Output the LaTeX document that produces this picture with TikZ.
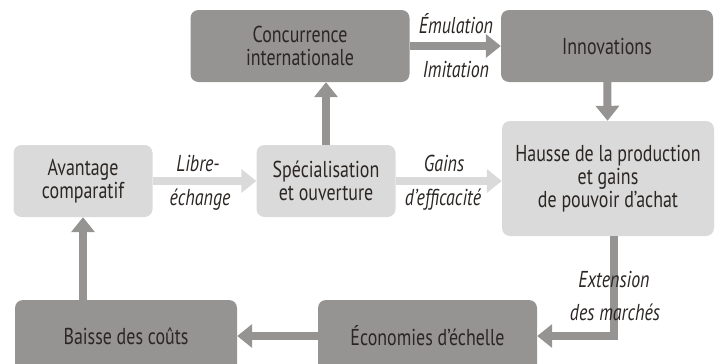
\documentclass[tikz,border=0pt]{standalone}
\usepackage{fontspec}
\setmainfont{PT Sans}[FakeStretch=0.78]
\usetikzlibrary{arrows.meta}
\definecolor{boxdark}{HTML}{959492}
\definecolor{boxlight}{HTML}{DADADA}
\definecolor{inkcol}{HTML}{2B2623}
\begin{document}
\begin{tikzpicture}[x=1pt,y=-1pt,
    box/.style={rectangle, rounded corners=8pt, inner sep=0pt, align=center,
      text=inkcol, font=\fontsize{23}{23}\selectfont},
    darkbox/.style={box, fill=boxdark},
    lightbox/.style={box, fill=boxlight},
    flow/.style={line width=8pt, -{Triangle[width=23pt,length=15pt]}},
    lbl/.style={text=inkcol, font=\fontsize{23}{23}\selectfont\itshape}]
    \useasboundingbox (0,0) rectangle (723,364);

    % boxes
    \node[lightbox, minimum width=139pt, minimum height=72pt] (avant) at (83,181) {Avantage\\comparatif};
    \node[lightbox, minimum width=139pt, minimum height=72pt] (spec) at (326,181) {Spécialisation\\et ouverture};
    \node[darkbox, minimum width=219pt, minimum height=72pt] (conc) at (300,46) {Concurrence\\internationale};
    \node[darkbox, minimum width=212pt, minimum height=72pt] (innov) at (607,46) {Innovations};
    \node[lightbox, minimum width=212pt, minimum height=115pt] (hausse) at (608,178.5) {Hausse de la production\\et gains\\de pouvoir d’achat};
    \node[darkbox, minimum width=219pt, minimum height=72pt] (eco) at (427.5,336) {Économies d’échelle};
    \node[darkbox, minimum width=222pt, minimum height=72pt] (baisse) at (126,336) {Baisse des coûts};

    % connectors
    \draw[flow, boxlight] (avant) -- (spec);
    \draw[flow, boxlight] (spec) -- (hausse.west |- spec);
    \draw[flow, boxdark] (conc) -- (innov);
    \draw[flow, boxdark] (spec.north) -- (spec.north |- conc.south);
    \draw[flow, boxdark] (innov) -- (hausse);
    \draw[flow, boxdark] ([xshift=6pt]hausse.south) |- (eco.east);
    \draw[flow, boxdark] (eco) -- (baisse);
    \draw[flow, boxdark] (avant.south |- baisse.north) -- (avant.south);

    % labels
    \node[lbl] (libre) at (198,163) {Libre-};
    \node[lbl] (echange) at (200,200) {échange};
    \node[lbl] (gains) at (444,163) {Gains};
    \node[lbl] (effic) at (443,200) {d’efficacité};
    \node[lbl] (emul) at (456,24) {Émulation};
    \node[lbl] (imit) at (456,69) {Imitation};
    \node[lbl] (ext) at (614,279) {Extension};
    \node[lbl] (march) at (615,312) {des marchés};
\end{tikzpicture}
\end{document}
